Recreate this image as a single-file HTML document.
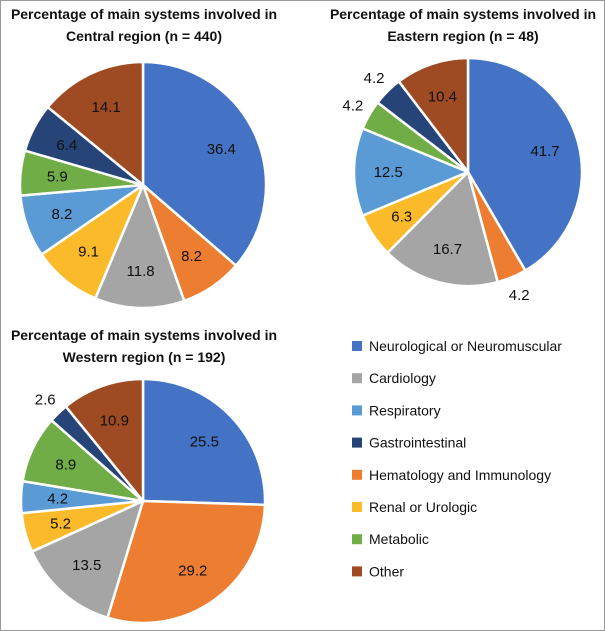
<!DOCTYPE html>
<html><head><meta charset="utf-8"><style>
body{margin:0;background:#fff}
svg{display:block;font-family:"Liberation Sans",Arial,sans-serif}
</style></head><body>
<svg width="605" height="631" viewBox="0 0 605 631">
<rect x="0.5" y="0.5" width="604" height="630" fill="#fff" stroke="#999"/>
<g id="charts"></g>
<g id="legend"></g>
</svg>
<script>
const categories = ["Neurological or Neuromuscular","Hematology and Immunology","Cardiology","Renal or Urologic","Respiratory","Metabolic","Gastrointestinal","Other"];
const colors = ["#4472C4","#ED7D31","#A5A5A5","#FBBA2A","#5B9BD5","#70AD47","#264478","#9E4A22"];
const centralValues = [36.4,8.2,11.8,9.1,8.2,5.9,6.4,14.1];
const easternValues = [41.7,4.2,16.7,6.3,12.5,4.2,4.2,10.4];
const westernValues = [25.5,29.2,13.5,5.2,4.2,8.9,2.6,10.9];
const legendOrder = ["Neurological or Neuromuscular","Cardiology","Respiratory","Gastrointestinal","Hematology and Immunology","Renal or Urologic","Metabolic","Other"];
const NS="http://www.w3.org/2000/svg";
function mk(t,a,p){const e=document.createElementNS(NS,t);for(const k in a)e.setAttribute(k,a[k]);p.appendChild(e);return e;}
const pies=[
 {name:"central",vals:centralValues,cx:143,cy:185,r:123,t1:"Percentage of main systems involved in",t2:"Central region (n = 440)",tx:144,ty:19,outside:[]},
 {name:"eastern",vals:easternValues,cx:468,cy:172,r:114,t1:"Percentage of main systems involved in",t2:"Eastern region (n = 48)",tx:463,ty:19,outside:[1,5,6]},
 {name:"western",vals:westernValues,cx:143,cy:501,r:122,t1:"Percentage of main systems involved in",t2:"Western region (n = 192)",tx:144,ty:340,outside:[6]}
];
const root=document.getElementById('charts');
pies.forEach(p=>{
 const g=mk('g',{},root);
 
 
 const tt=mk('text',{x:p.tx,y:p.ty,'text-anchor':'middle','font-size':'14','font-weight':'bold',fill:'#111'},g);
 
 
 const a=mk('tspan',{x:p.tx,dy:0},tt);a.textContent=p.t1;
 const b=mk('tspan',{x:p.tx,dy:22},tt);b.textContent=p.t2;
 const total=p.vals.reduce((s,v)=>s+v,0);
 let cum=0;
 p.vals.forEach((v,i)=>{
  const a0=cum/total*2*Math.PI, a1=(cum+v)/total*2*Math.PI; cum+=v;
  const x0=p.cx+p.r*Math.sin(a0),y0=p.cy-p.r*Math.cos(a0),x1=p.cx+p.r*Math.sin(a1),y1=p.cy-p.r*Math.cos(a1);
  const large=(a1-a0)>Math.PI?1:0;
  const s=mk('path',{d:`M${p.cx},${p.cy}L${x0},${y0}A${p.r},${p.r} 0 ${large} 1 ${x1},${y1}Z`,fill:colors[i],stroke:'#fff','stroke-width':'2.5','stroke-linejoin':'round'},g);
  
  
  const am=(a0+a1)/2, out=p.outside.includes(i), d=out?p.r+19:p.r*0.7;
  const lx=p.cx+d*Math.sin(am), ly=p.cy-d*Math.cos(am);
  const l=mk('text',{x:lx,y:ly+5,'text-anchor':'middle','font-size':'15',fill:'#111'},g);
  l.textContent=v.toFixed(1);
  
  
 });
});
const lg=document.getElementById('legend');
legendOrder.forEach((c,i)=>{
 const y=346+i*32.2;
 const r=mk('rect',{x:352,y:y-5,width:10,height:10,fill:colors[categories.indexOf(c)]},lg);
 
 
 const t=mk('text',{x:369,y:y+5,'font-size':'14',fill:'#111'},lg);
 t.textContent=c;
 
 
});
</script>
</body></html>
